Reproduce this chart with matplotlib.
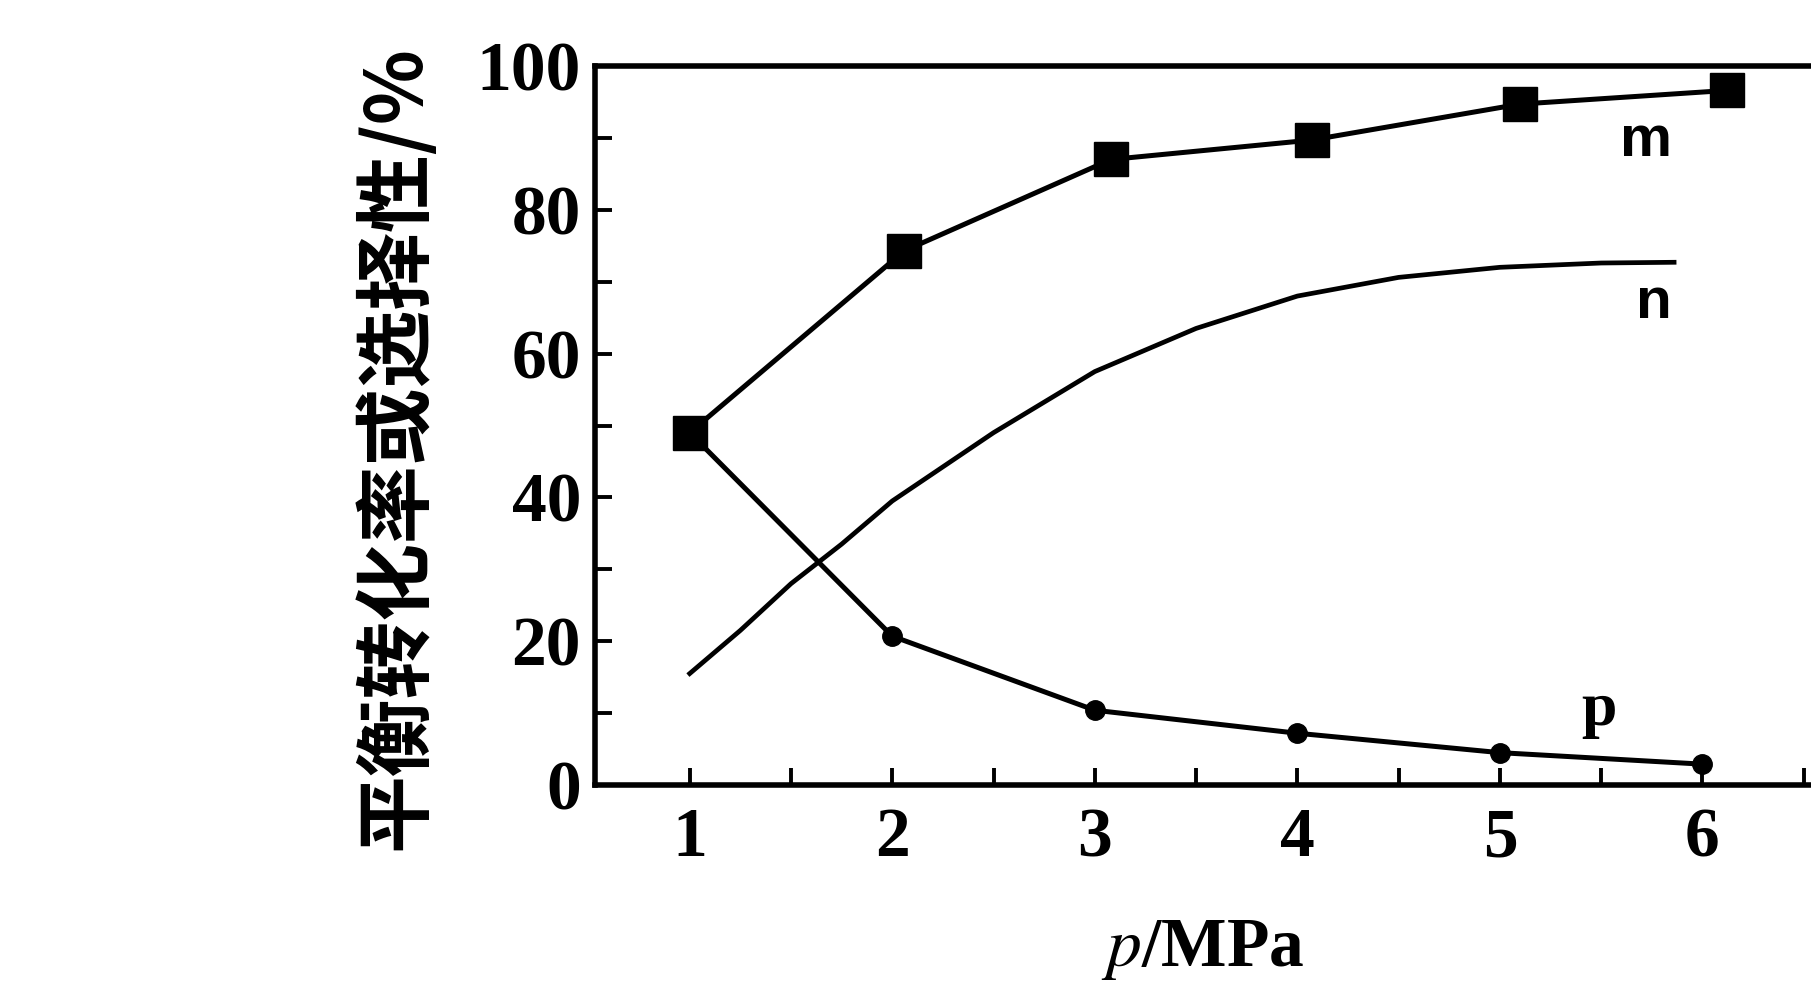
import matplotlib.pyplot as plt
from matplotlib.ticker import MultipleLocator, FixedLocator

plt.rcParams['mathtext.fontset'] = 'stix'

# pressure / MPa
m_x = [1.0, 2.06, 3.08, 4.07, 5.1, 6.12]
m_y = [49.0, 74.3, 87.0, 89.7, 94.7, 96.6]

p_x = [1, 2, 3, 4, 5, 6]
p_y = [49.0, 20.7, 10.4, 7.2, 4.5, 2.9]

n_x = [1.0, 1.25, 1.5, 1.75, 2.0, 2.5, 3.0, 3.5, 4.0, 4.5, 5.0, 5.5, 5.86]
n_y = [15.5, 21.5, 28.0, 33.5, 39.5, 49.0, 57.5, 63.5, 68.0, 70.6, 72.0, 72.6, 72.7]

x_ticks = [1, 2, 3, 4, 5, 6]
y_ticks = [0, 20, 40, 60, 80, 100]

serif = 'Liberation Serif'

fig = plt.figure(figsize=(18.11, 9.82), dpi=100)
ax = fig.add_axes([0.3285, 0.2006, 0.6715, 0.7322])

ax.plot(n_x, n_y, '-', color='black', lw=3.4)
ax.plot(p_x, p_y, '-o', color='black', lw=3.6, markersize=14)
ax.plot(m_x, m_y, '-s', color='black', lw=3.6, markersize=25)

ax.text(5.72, 89.5, 'm', fontsize=42, fontweight='bold', family='Liberation Sans',
        ha='center', va='center')
ax.text(5.76, 67, 'n', fontsize=42, fontweight='bold', family='Liberation Sans',
        ha='center', va='center')
ax.text(5.49, 10.5, 'p', fontsize=46, fontweight='bold', family=serif,
        ha='center', va='center')

ax.set_xlim(0.532, 6.536)
ax.set_ylim(0, 100)

ax.xaxis.set_major_locator(FixedLocator(x_ticks))
ax.xaxis.set_minor_locator(MultipleLocator(0.5))
ax.yaxis.set_major_locator(FixedLocator(y_ticks))
ax.yaxis.set_minor_locator(MultipleLocator(10))

ax.tick_params(which='both', direction='in', length=12, width=2.8,
               top=False, right=False)
ax.tick_params(axis='x', which='major', pad=16)
ax.tick_params(axis='y', which='major', pad=10)
for lab in ax.get_xticklabels() + ax.get_yticklabels():
    lab.set_fontfamily(serif)
    lab.set_fontsize(50)
    lab.set_fontweight('bold')

for s in ['left', 'bottom', 'top']:
    ax.spines[s].set_linewidth(4)
ax.spines['right'].set_visible(False)

ax.set_ylabel('平衡转化率或选择性/%', fontsize=56, fontweight='bold',
              family=['Noto Sans CJK SC', 'DejaVu Sans'])
ax.yaxis.set_label_coords(-0.13, 0.47)
ax.set_xlabel('$\\mathit{p}$/MPa', fontsize=50, fontweight='bold', family=serif,
              labelpad=34)

fig.savefig('out.png', dpi=100)
